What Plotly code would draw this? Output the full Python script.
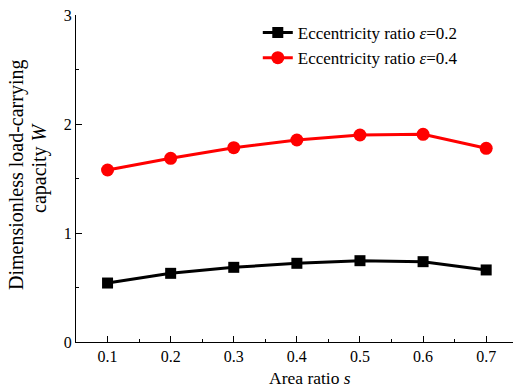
import plotly.graph_objects as go

area_ratio = [0.1, 0.2, 0.3, 0.4, 0.5, 0.6, 0.7]
w_eps02 = [0.541, 0.630, 0.685, 0.722, 0.746, 0.737, 0.661]
w_eps04 = [1.578, 1.685, 1.783, 1.853, 1.899, 1.905, 1.777]
name02 = "Eccentricity ratio <i>ε</i>=0.2"
name04 = "Eccentricity ratio <i>ε</i>=0.4"
x_ticks = [0.1, 0.2, 0.3, 0.4, 0.5, 0.6, 0.7]
y_ticks = [0, 1, 2, 3]
x_title = "Area ratio <i>s</i>"
y_title_lines = ["Dimensionless load-carrying", "capacity <i>W</i>"]

FONT = "'Times New Roman', 'Liberation Serif', serif"
L, T, W, H = 76, 15, 437, 327

fig = go.Figure()
fig.add_trace(go.Scatter(x=area_ratio, y=w_eps02, name=name02, mode="lines+markers",
                         line=dict(color="black", width=3),
                         marker=dict(symbol="square", size=11, color="black")))
fig.add_trace(go.Scatter(x=area_ratio, y=w_eps04, name=name04, mode="lines+markers",
                         line=dict(color="#ff0000", width=3),
                         marker=dict(symbol="circle", size=13, color="#ff0000")))

axis_common = dict(showline=True, linecolor="black", linewidth=1.3, showgrid=False,
                   zeroline=False, ticks="inside", ticklen=6, tickwidth=1.3, tickcolor="black",
                   tickfont=dict(family=FONT, size=16, color="black"), mirror=False)

fig.update_layout(
    width=513, height=387,
    margin=dict(l=L, r=0, t=T, b=45),
    plot_bgcolor="white", paper_bgcolor="white",
    font=dict(family=FONT, color="black"),
    xaxis=dict(range=[0.05, 0.7425], tickvals=x_ticks, ticktext=[str(v) for v in x_ticks],
               minor=dict(tickvals=[0.15, 0.25, 0.35, 0.45, 0.55, 0.65], ticks="inside",
                          ticklen=3, tickcolor="black"),
               **axis_common),
    yaxis=dict(range=[0, 3], tickvals=y_ticks, ticktext=[str(v) for v in y_ticks],
               minor=dict(tickvals=[0.5, 1.5, 2.5], ticks="inside", ticklen=3, tickcolor="black"),
               **axis_common),
    legend=dict(x=0.416, y=1.0, xanchor="left", yanchor="top", bgcolor="rgba(0,0,0,0)",
                font=dict(family=FONT, size=17), tracegroupgap=0, itemwidth=30),
    showlegend=True,
)

# x-axis title
fig.add_annotation(text=x_title, xref="paper", yref="paper",
                   x=(309.5 - L) / W, y=(T + H - 378) / H,
                   xanchor="center", yanchor="middle", showarrow=False,
                   font=dict(family=FONT, size=17.5, color="black"))

# two-line rotated y-axis title (tight line spacing as in the reference)
for txt, xpx, ypx in zip(y_title_lines, [16, 39], [175, 168]):
    fig.add_annotation(text=txt, textangle=-90, xref="paper", yref="paper",
                       x=(xpx - L) / W, y=(T + H - ypx) / H,
                       xanchor="center", yanchor="middle", showarrow=False,
                       font=dict(family=FONT, size=20, color="black"))

fig.write_html("out.html")
